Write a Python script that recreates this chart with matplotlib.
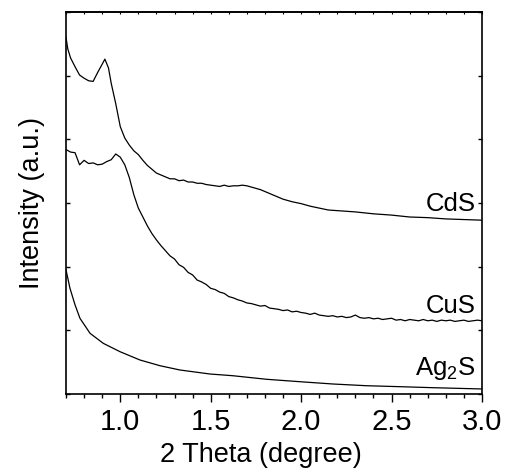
import matplotlib
matplotlib.use("Agg")
import matplotlib.pyplot as plt
from matplotlib.ticker import MultipleLocator, NullFormatter

plt.rcParams['font.family'] = ['Liberation Sans', 'DejaVu Sans']
plt.rcParams['mathtext.fontset'] = 'custom'
plt.rcParams['mathtext.rm'] = 'Liberation Sans'
plt.rcParams['mathtext.it'] = 'Liberation Sans'

# ---- data ----
cds_x = [0.700, 0.710, 0.725, 0.750, 0.775, 0.800, 0.825, 0.850, 0.875, 0.900, 0.915, 0.935,
         0.950, 0.975, 1.000, 1.025, 1.050, 1.075, 1.100, 1.125, 1.150, 1.175, 1.200, 1.225,
         1.250, 1.275, 1.300, 1.325, 1.350, 1.375, 1.400, 1.425, 1.450, 1.475, 1.500, 1.525,
         1.550, 1.575, 1.600, 1.625, 1.650, 1.675, 1.700, 1.725, 1.750, 1.775, 1.800, 1.825,
         1.850, 1.875, 1.900, 1.950, 2.000, 2.050, 2.100, 2.150, 2.200, 2.300, 2.400, 2.500,
         2.600, 2.700, 2.800, 2.900, 3.000]
cds_y = [5.60, 5.42, 5.28, 5.14, 5.01, 4.96, 4.92, 4.91, 5.05, 5.18, 5.26, 5.12,
         4.88, 4.56, 4.20, 4.02, 3.91, 3.82, 3.76, 3.67, 3.59, 3.53, 3.47, 3.44,
         3.41, 3.38, 3.38, 3.35, 3.36, 3.33, 3.33, 3.31, 3.31, 3.29, 3.28, 3.27,
         3.26, 3.28, 3.26, 3.27, 3.27, 3.28, 3.27, 3.25, 3.23, 3.21, 3.18, 3.15,
         3.12, 3.09, 3.06, 3.02, 2.99, 2.95, 2.92, 2.89, 2.88, 2.86, 2.83, 2.81,
         2.78, 2.77, 2.75, 2.74, 2.73]

cus_x = [0.700, 0.725, 0.750, 0.775, 0.800, 0.825, 0.850, 0.875, 0.900, 0.925, 0.950, 0.975,
         1.000, 1.025, 1.050, 1.075, 1.100, 1.125, 1.150, 1.175, 1.200, 1.225, 1.250, 1.275,
         1.300, 1.325, 1.350, 1.375, 1.400, 1.425, 1.450, 1.475, 1.500, 1.525, 1.550, 1.575,
         1.600, 1.625, 1.650, 1.675, 1.700, 1.725, 1.750, 1.775, 1.800, 1.825, 1.850, 1.875,
         1.900, 1.925, 1.950, 1.975, 2.000, 2.025, 2.050, 2.075, 2.100, 2.125, 2.150, 2.175,
         2.200, 2.225, 2.250, 2.275, 2.300, 2.325, 2.350, 2.375, 2.400, 2.425, 2.450, 2.475,
         2.500, 2.525, 2.550, 2.575, 2.600, 2.625, 2.650, 2.675, 2.700, 2.725, 2.750, 2.775,
         2.800, 2.825, 2.850, 2.875, 2.900, 2.925, 2.950, 2.975, 3.000]
cus_y = [3.84, 3.80, 3.79, 3.60, 3.67, 3.62, 3.63, 3.60, 3.61, 3.65, 3.68, 3.77,
         3.72, 3.60, 3.40, 3.13, 2.92, 2.78, 2.64, 2.52, 2.42, 2.33, 2.25, 2.17,
         2.12, 2.03, 1.99, 1.91, 1.87, 1.79, 1.76, 1.72, 1.66, 1.64, 1.60, 1.58,
         1.53, 1.51, 1.48, 1.46, 1.43, 1.42, 1.40, 1.38, 1.39, 1.35, 1.34, 1.33,
         1.31, 1.32, 1.29, 1.30, 1.28, 1.27, 1.25, 1.27, 1.24, 1.23, 1.22, 1.23,
         1.21, 1.22, 1.20, 1.21, 1.24, 1.20, 1.19, 1.20, 1.18, 1.19, 1.17, 1.18,
         1.19, 1.16, 1.17, 1.15, 1.17, 1.16, 1.15, 1.17, 1.15, 1.16, 1.14, 1.16,
         1.15, 1.16, 1.14, 1.15, 1.16, 1.14, 1.15, 1.16, 1.15]

ags_x = [0.700, 0.722, 0.750, 0.777, 0.833, 0.906, 0.999, 1.109, 1.220, 1.330, 1.496,
         1.623, 1.809, 1.994, 2.176, 2.362, 2.546, 2.729, 3.000]
ags_y = [1.95, 1.66, 1.40, 1.19, 0.953, 0.796, 0.664, 0.534, 0.444, 0.377, 0.314,
         0.287, 0.231, 0.193, 0.157, 0.130, 0.115, 0.099, 0.079]

labels = ['CdS', 'CuS', 'Ag$_2$S']
label_y = [2.87, 1.267, 0.30]
xticks = [1.0, 1.5, 2.0, 2.5, 3.0]

fig = plt.figure(figsize=(5.08, 4.75), dpi=100)
ax = fig.add_axes([66/508, 81/475, 416/508, 382/475])

for xs, ys in [(cds_x, cds_y), (cus_x, cus_y), (ags_x, ags_y)]:
    ax.plot(xs, ys, color='black', lw=0.9)

for lab, ly in zip(labels, label_y):
    ax.text(2.965, ly, lab, ha='right', va='baseline', fontsize=18.5)

ax.set_xlim(0.7, 3.0)
ax.set_ylim(0, 6)
ax.set_xticks(xticks)
ax.set_xticklabels([f"{t:.1f}" for t in xticks])
ax.xaxis.set_minor_locator(MultipleLocator(0.1))
ax.yaxis.set_major_locator(MultipleLocator(1))
ax.yaxis.set_major_formatter(NullFormatter())

ax.tick_params(axis='x', which='major', direction='out', length=6, width=1, labelsize=21, pad=4, top=False)
ax.tick_params(axis='x', which='minor', direction='out', length=3, width=1, top=False)
ax.tick_params(axis='y', which='major', direction='in', length=3, width=1, left=True, right=True)

# small inward ticks along the top edge
axt = ax.secondary_xaxis('top')
axt.set_xticks(xticks)
axt.xaxis.set_minor_locator(MultipleLocator(0.1))
axt.tick_params(axis='x', which='both', direction='in', length=1.5, width=0.8, labeltop=False)
axt.spines['top'].set_linewidth(1.2)

for s in ax.spines.values():
    s.set_linewidth(1.2)

ax.set_xlabel('2 Theta (degree)', fontsize=19.5)
ax.xaxis.set_label_coords(0.469, -0.125)
ax.set_ylabel('Intensity (a.u.)', fontsize=19.5)
ax.yaxis.set_label_coords(-0.05, 0.5)

fig.savefig('out.png', dpi=100)
